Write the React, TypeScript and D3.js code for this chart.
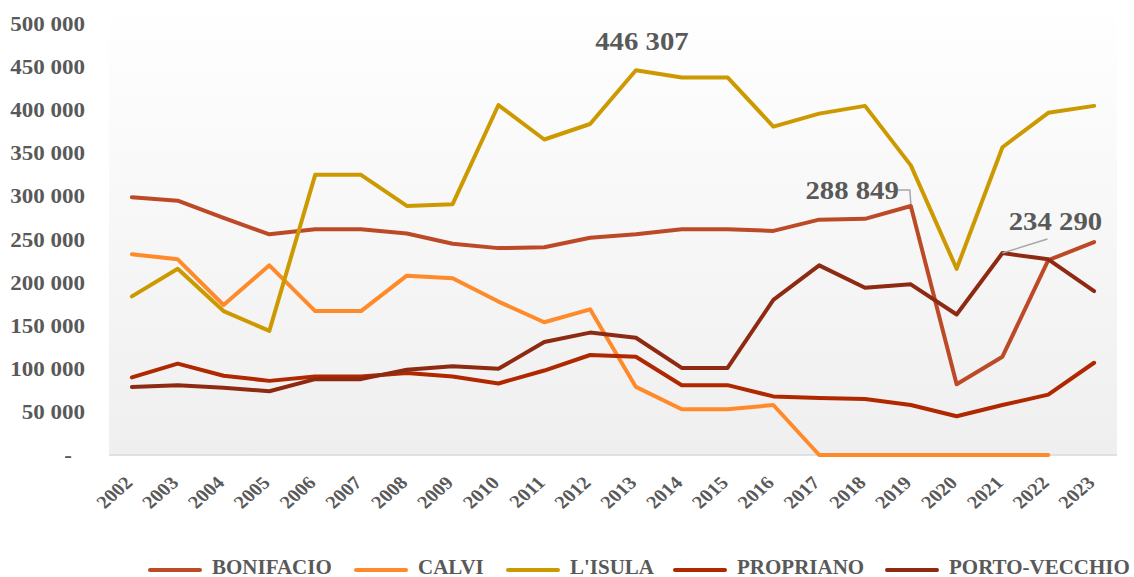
import { useMemo } from "react";
import * as d3 from "d3";

const years = [
  "2002", "2003", "2004", "2005", "2006", "2007", "2008", "2009", "2010", "2011", "2012",
  "2013", "2014", "2015", "2016", "2017", "2018", "2019", "2020", "2021", "2022", "2023",
];

const bonifacio = [
  299000, 295000, 275000, 256000, 262000, 262000, 257000, 245000, 240000, 241000, 252000,
  256000, 262000, 262000, 260000, 273000, 274000, 288849, 82000, 114000, 226000, 247000,
];
const calvi: (number | null)[] = [
  233000, 227000, 174000, 220000, 167000, 167000, 208000, 205000, 178000, 154000, 169000,
  79000, 53000, 53000, 58000, 0, 0, 0, 0, 0, 0, null,
];
const isula = [
  184000, 216000, 167000, 144000, 325000, 325000, 289000, 291000, 406000, 366000, 384000,
  446307, 438000, 438000, 381000, 396000, 405000, 336000, 216000, 357000, 397000, 405000,
];
const propriano = [
  90000, 106000, 92000, 86000, 91000, 91000, 95000, 91000, 83000, 98000, 116000,
  114000, 81000, 81000, 68000, 66000, 65000, 58000, 45000, 58000, 70000, 107000,
];
const portoVecchio = [
  79000, 81000, 78000, 74000, 88000, 88000, 99000, 103000, 100000, 131000, 142000,
  136000, 101000, 101000, 180000, 220000, 194000, 198000, 163000, 234290, 227000, 190000,
];

const seriesNames = ["BONIFACIO", "CALVI", "L'ISULA", "PROPRIANO", "PORTO-VECCHIO"];
const seriesColors = ["#BC4A27", "#FF8A2A", "#CC9A00", "#B02800", "#8E2A12"];
const seriesValues: (number | null)[][] = [bonifacio, calvi, isula, propriano, portoVecchio];

const yTicks = [0, 50000, 100000, 150000, 200000, 250000, 300000, 350000, 400000, 450000, 500000];

// data labels: [series index, year]
const callouts: [number, string][] = [
  [2, "2013"],
  [0, "2019"],
  [4, "2021"],
];

const FONT = "'Liberation Serif', 'Times New Roman', serif";
const TEXT = "#595959";
const SX = 1.15; // axis/label text in the source is wider than plain Times

function fmt(v: number) {
  if (v === 0) return "-";
  return d3.format(",")(v).replace(/,/g, " ");
}

export default function App() {
  const width = 1134;
  const height = 577;
  const plot = { left: 109, right: 1117, top: 0, bottom: 455 };

  const x = useMemo(
    () => d3.scalePoint<string>().domain(years).range([plot.left, plot.right]).padding(0.5),
    []
  );
  const y = useMemo(() => d3.scaleLinear().domain([0, 500000]).range([455, 24]), []);

  const line = d3
    .line<number | null>()
    .defined((d) => d !== null)
    .x((_, i) => x(years[i])!)
    .y((d) => y(d as number));

  // legend layout (line start x for each entry)
  const legendX = [148, 354, 506, 673, 885];

  return (
    <svg
      width={width}
      height={height}
      style={{ position: "absolute", left: 0, top: 0, display: "block" }}
      fontFamily={FONT}
    >
      <defs>
        <linearGradient id="bg" x1="0" y1="0" x2="0" y2="1">
          <stop offset="0" stopColor="#ffffff" />
          <stop offset="1" stopColor="#efefef" />
        </linearGradient>
      </defs>
      <rect width={width} height={height} fill="#fff" />
      <rect
        x={plot.left}
        y={plot.top}
        width={plot.right - plot.left}
        height={plot.bottom - plot.top}
        fill="url(#bg)"
      />
      <line x1={plot.left} x2={plot.right} y1={455} y2={455} stroke="#d9d9d9" strokeWidth={1.5} />

      {/* y tick labels */}
      {yTicks.map((t) => (
        <text
          key={t}
          transform={`translate(${t === 0 ? 72 : 85},${y(t)}) scale(${SX},1)`}
          dy="0.35em"
          textAnchor="end"
          fontSize={20}
          fontWeight="bold"
          fill={TEXT}
        >
          {fmt(t)}
        </text>
      ))}

      {/* x tick labels */}
      {years.map((yr) => (
        <text
          key={yr}
          transform={`translate(${x(yr)! + 2},${484}) scale(${SX},1) rotate(-45)`}
          textAnchor="end"
          fontSize={18}
          fontWeight="bold"
          fill={TEXT}
        >
          {yr}
        </text>
      ))}

      {/* lines */}
      {seriesValues.map((vals, i) => (
        <path
          key={seriesNames[i]}
          d={line(vals) || ""}
          fill="none"
          stroke={seriesColors[i]}
          strokeWidth={4}
          strokeLinejoin="round"
          strokeLinecap="round"
        />
      ))}

      {/* callouts */}
      {callouts.map(([si, yr]) => {
        const idx = years.indexOf(yr);
        const v = seriesValues[si][idx] as number;
        const px = x(yr)!;
        const py = y(v);
        if (si === 2) {
          return (
            <text
              key={yr}
              transform={`translate(${px + 6},${py - 20}) scale(${SX},1)`}
              textAnchor="middle"
              fontSize={25}
              fontWeight="bold"
              fill={TEXT}
            >
              {fmt(v)}
            </text>
          );
        }
        if (si === 0) {
          return (
            <g key={yr}>
              <polyline
                points={`${px - 13},${py - 16} ${px - 1},${py - 16} ${px},${py - 2}`}
                fill="none"
                stroke="#a6a6a6"
                strokeWidth={1.5}
              />
              <text
                transform={`translate(${px - 12},${py - 7}) scale(${SX},1)`}
                textAnchor="end"
                fontSize={25}
                fontWeight="bold"
                fill={TEXT}
              >
                {fmt(v)}
              </text>
            </g>
          );
        }
        return (
          <g key={yr}>
            <line x1={px} y1={py} x2={px + 45} y2={py - 14} stroke="#a6a6a6" strokeWidth={1.5} />
            <text
              transform={`translate(${px + 53},${py - 23}) scale(${SX},1)`}
              textAnchor="middle"
              fontSize={25}
              fontWeight="bold"
              fill={TEXT}
            >
              {fmt(v)}
            </text>
          </g>
        );
      })}

      {/* legend */}
      {seriesNames.map((n, i) => (
        <g key={n}>
          <line
            x1={legendX[i] + 2}
            x2={legendX[i] + 52}
            y1={570}
            y2={570}
            stroke={seriesColors[i]}
            strokeWidth={4}
            strokeLinecap="round"
          />
          <text
            transform={`translate(${legendX[i] + 64},574) scale(1.05,1)`}
            fontSize={20}
            fontWeight="bold"
            fill={TEXT}
          >
            {n}
          </text>
        </g>
      ))}
    </svg>
  );
}
